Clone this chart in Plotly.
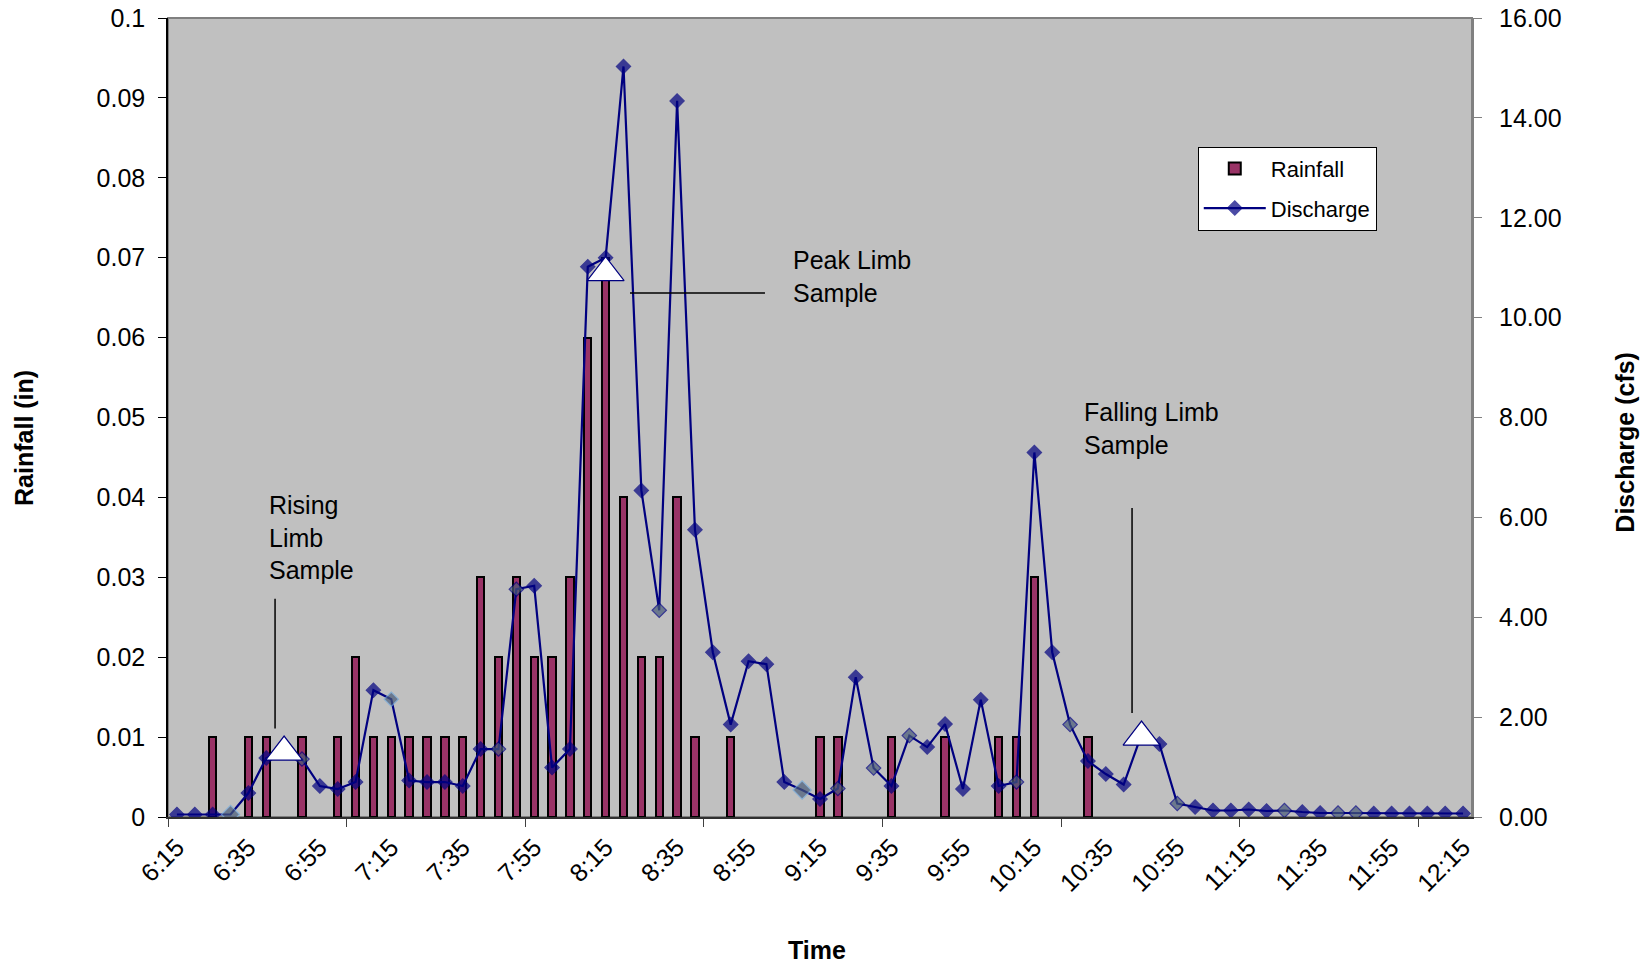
import plotly.graph_objects as go

# ---------------- data ----------------
times = ["6:15", "6:20", "6:25", "6:30", "6:35", "6:40", "6:45", "6:50", "6:55", "7:00",
         "7:05", "7:10", "7:15", "7:20", "7:25", "7:30", "7:35", "7:40", "7:45", "7:50",
         "7:55", "8:00", "8:05", "8:10", "8:15", "8:20", "8:25", "8:30", "8:35", "8:40",
         "8:45", "8:50", "8:55", "9:00", "9:05", "9:10", "9:15", "9:20", "9:25", "9:30",
         "9:35", "9:40", "9:45", "9:50", "9:55", "10:00", "10:05", "10:10", "10:15", "10:20",
         "10:25", "10:30", "10:35", "10:40", "10:45", "10:50", "10:55", "11:00", "11:05", "11:10",
         "11:15", "11:20", "11:25", "11:30", "11:35", "11:40", "11:45", "11:50", "11:55", "12:00",
         "12:05", "12:10", "12:15"]

rainfall_in = [0, 0, 0.01, 0, 0.01, 0.01, 0, 0.01, 0, 0.01,
               0.02, 0.01, 0.01, 0.01, 0.01, 0.01, 0.01, 0.03, 0.02, 0.03,
               0.02, 0.02, 0.03, 0.06, 0.07, 0.04, 0.02, 0.02, 0.04, 0.01,
               0, 0.01, 0, 0, 0, 0, 0.01, 0.01, 0, 0,
               0.01, 0, 0, 0.01, 0, 0, 0.01, 0.01, 0.03, 0,
               0, 0.01, 0, 0, 0, 0, 0, 0, 0, 0,
               0, 0, 0, 0, 0, 0, 0, 0, 0, 0,
               0, 0, 0]

discharge_cfs = [0.05, 0.05, 0.05, 0.05, 0.48, 1.18, 1.30, 1.16, 0.62, 0.56,
                 0.70, 2.54, 2.36, 0.73, 0.70, 0.70, 0.62, 1.36, 1.36, 4.56,
                 4.63, 0.99, 1.36, 11.02, 11.20, 15.03, 6.54, 4.14, 14.34, 5.75,
                 3.30, 1.85, 3.12, 3.06, 0.70, 0.54, 0.36, 0.57, 2.80, 0.98,
                 0.62, 1.63, 1.40, 1.86, 0.56, 2.35, 0.62, 0.70, 7.30, 3.30,
                 1.85, 1.12, 0.86, 0.65, 1.65, 1.46, 0.27, 0.20, 0.13, 0.13,
                 0.15, 0.12, 0.13, 0.10, 0.08, 0.08, 0.08, 0.07, 0.07, 0.07,
                 0.07, 0.07, 0.07]

sample_times = ["6:45", "8:15", "10:45"]
sample_discharge = [1.3, 10.9, 1.6]
sample_labels = ["Rising<br>Limb<br>Sample", "Peak Limb<br>Sample", "Falling Limb<br>Sample"]

rainfall_ticks = [0, 0.01, 0.02, 0.03, 0.04, 0.05, 0.06, 0.07, 0.08, 0.09, 0.1]
discharge_ticks = [0, 2, 4, 6, 8, 10, 12, 14, 16]
label_step = 4

# points drawn with the lighter (edited) marker style in the original
edited_points = [3, 7, 12, 18, 19, 27, 35, 37, 39, 41, 47, 50, 56, 62, 65, 66]
edited_outline = [3, 12, 35]
edited_big = [3, 35]

# ---------------- styling ----------------
FONT = "Liberation Sans, Arial, sans-serif"
NAVY = "#000080"
PLUM = "#993366"
SLATE = "#485a78"
LIGHTBLUE = "#6fa8dc"

x_idx = list(range(len(times)))
sample_x = [times.index(t) for t in sample_times]
# zero-rain intervals draw no bar at all
rain_bars = [v if v > 0 else None for v in rainfall_in]

m_colors = [SLATE if i in edited_points else NAVY for i in x_idx]
m_lines = [LIGHTBLUE if i in edited_outline else NAVY for i in x_idx]
m_sizes = [14 if i in edited_big else 11 for i in x_idx]

fig = go.Figure()

fig.add_trace(go.Bar(
    x=x_idx, y=rain_bars, name="Rainfall", width=0.41,
    marker=dict(color=PLUM, line=dict(color="black", width=2)),
    customdata=times, hovertemplate="%{customdata}: %{y} in<extra></extra>",
    legendgroup="r", yaxis="y",
))

fig.add_trace(go.Scatter(
    x=x_idx, y=discharge_cfs, name="Discharge", mode="lines+markers",
    line=dict(color=NAVY, width=2.2),
    marker=dict(symbol="diamond", size=m_sizes, color=m_colors,
                line=dict(color=m_lines, width=1.2)),
    customdata=times, hovertemplate="%{customdata}: %{y:.2f} cfs<extra></extra>",
    legendgroup="d", yaxis="y2",
))

fig.add_trace(go.Scatter(
    x=sample_x, y=sample_discharge, mode="markers", showlegend=False,
    marker=dict(symbol="triangle-up", size=32, color="white",
                line=dict(color=NAVY, width=1.2)),
    customdata=sample_times, hovertemplate="Sample %{customdata}<extra></extra>",
    yaxis="y2",
))

tick_font = dict(family=FONT, size=25, color="black")

fig.update_layout(
    width=1651, height=967,
    margin=dict(l=168, r=179, t=18, b=150, autoexpand=False),
    paper_bgcolor="white",
    plot_bgcolor="#c0c0c0",
    font=dict(family=FONT, size=25, color="black"),
    showlegend=True,
    bargap=0,
    xaxis=dict(
        range=[-0.5, len(times) - 0.5],
        tickmode="array",
        tickvals=x_idx[::label_step],
        ticktext=times[::label_step],
        tickangle=-45,
        ticks="",
        tickfont=tick_font,
        showgrid=False, zeroline=False,
        showline=True, linecolor="#303030", linewidth=1.5,
        minor=dict(ticks="outside", tick0=-0.5, dtick=10, ticklen=8,
                   tickcolor="#404040", tickwidth=1, showgrid=False),
        ticklabelstandoff=4,
        automargin=False,
    ),
    yaxis=dict(
        range=[0, 0.1],
        tickmode="array",
        tickvals=rainfall_ticks,
        ticktext=[("%g" % v) for v in rainfall_ticks],
        ticks="outside", ticklen=8, tickcolor="black",
        tickfont=tick_font,
        showgrid=False, zeroline=False,
        showline=True, linecolor="black", linewidth=1.5,
        ticklabelstandoff=8,
        automargin=False,
    ),
    yaxis2=dict(
        range=[0, 16],
        overlaying="y", side="right",
        tickmode="array",
        tickvals=discharge_ticks,
        ticktext=["%.2f" % v for v in discharge_ticks],
        ticks="outside", ticklen=8, tickcolor="#808080",
        tickfont=tick_font,
        showgrid=False, zeroline=False,
        showline=True, linecolor="#808080", linewidth=2,
        ticklabelstandoff=12,
        automargin=False,
    ),
    legend=dict(
        x=0.7897, y=0.839, xanchor="left", yanchor="top",
        bgcolor="white", bordercolor="black", borderwidth=1,
        font=dict(family=FONT, size=22, color="black"),
        tracegroupgap=8, traceorder="grouped",
        itemwidth=62,
    ),
    shapes=[
        # plot frame (top/right in gray)
        dict(type="rect", xref="paper", yref="paper", x0=0, y0=0, x1=1, y1=1,
             line=dict(color="#808080", width=2), layer="below"),
        # callout lines
        dict(type="line", xref="paper", yref="paper", x0=0.0821, x1=0.0821,
             y0=0.2733, y1=0.1107, line=dict(color="black", width=1.5)),
        dict(type="line", xref="paper", yref="paper", x0=0.3543, x1=0.4578,
             y0=0.6557, y1=0.6557, line=dict(color="black", width=1.5)),
        dict(type="line", xref="paper", yref="paper", x0=0.7393, x1=0.7393,
             y0=0.3867, y1=0.1303, line=dict(color="black", width=1.5)),
    ],
    annotations=[
        dict(text=sample_labels[0], xref="paper", yref="paper", x=0.0757, y=0.3496,
             xanchor="left", yanchor="middle", align="left", showarrow=False,
             font=dict(family=FONT, size=25, color="black")),
        dict(text=sample_labels[1], xref="paper", yref="paper", x=0.4775, y=0.6768,
             xanchor="left", yanchor="middle", align="left", showarrow=False,
             font=dict(family=FONT, size=25, color="black")),
        dict(text=sample_labels[2], xref="paper", yref="paper", x=0.7007, y=0.486,
             xanchor="left", yanchor="middle", align="left", showarrow=False,
             font=dict(family=FONT, size=25, color="black")),
        dict(text="<b>Rainfall (in)</b>", xref="paper", yref="paper", x=-0.111, y=0.4747,
             xanchor="center", yanchor="middle", textangle=-90, showarrow=False,
             font=dict(family=FONT, size=25, color="black")),
        dict(text="<b>Discharge (cfs)</b>", xref="paper", yref="paper", x=1.1173, y=0.4697,
             xanchor="center", yanchor="middle", textangle=-90, showarrow=False,
             font=dict(family=FONT, size=25, color="black")),
        dict(text="<b>Time</b>", xref="paper", yref="paper", x=0.4977, y=-0.167,
             xanchor="center", yanchor="middle", showarrow=False,
             font=dict(family=FONT, size=25, color="black")),
    ],
)

fig.write_html("out.html")
